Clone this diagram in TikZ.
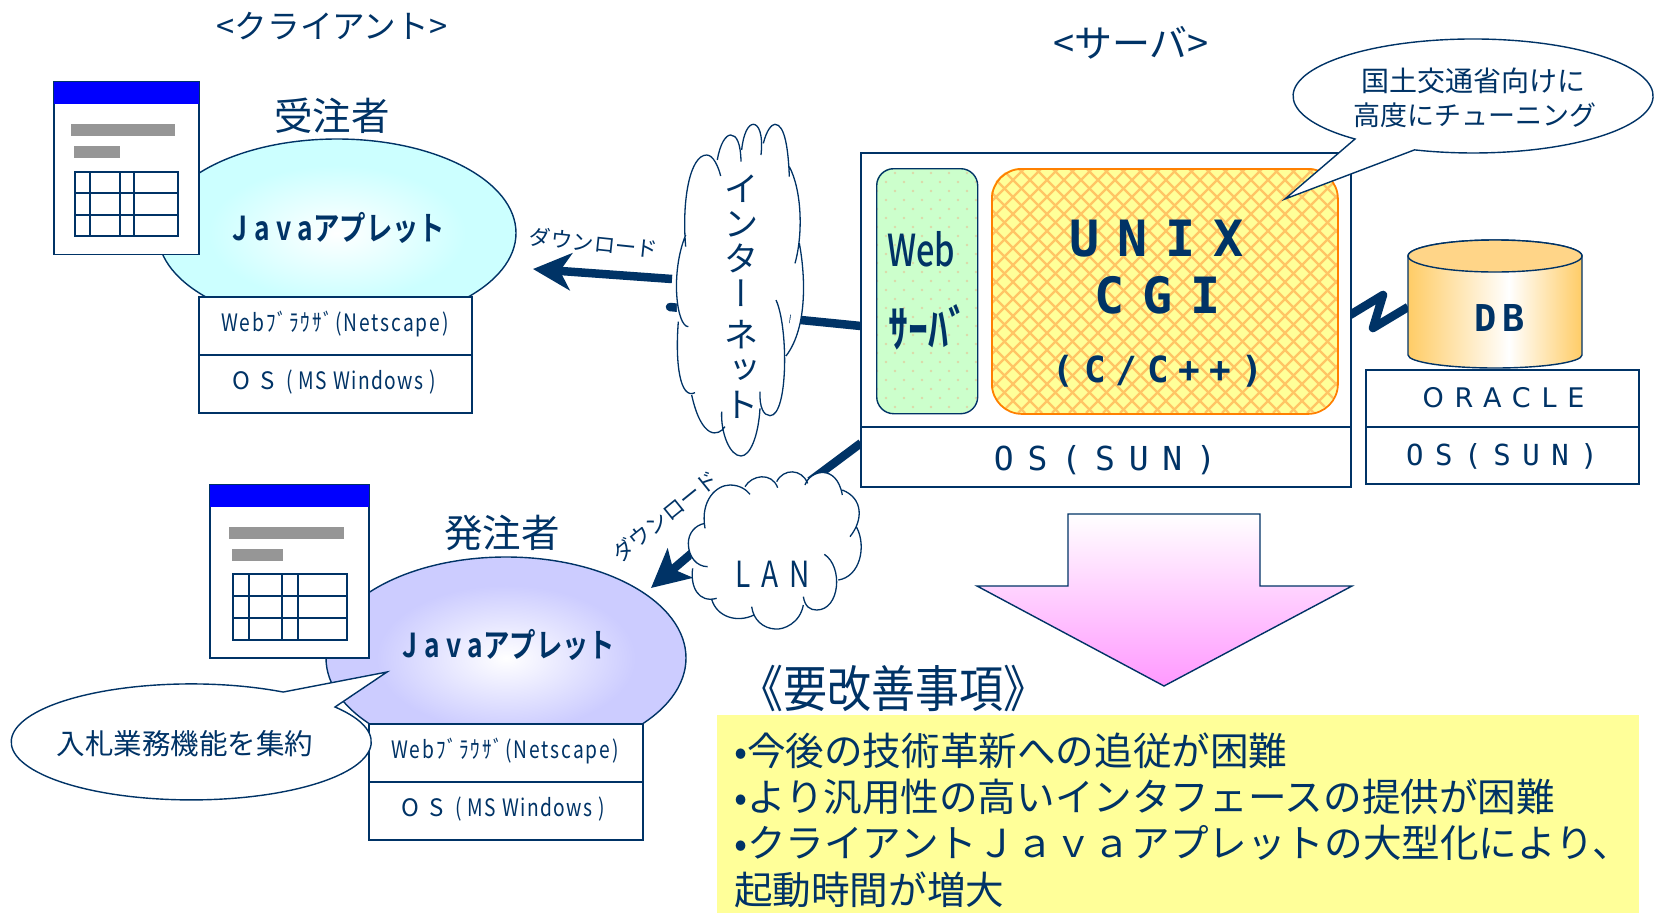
\documentclass[tikz,border=0pt]{standalone}
\usepackage{fontspec}
\usetikzlibrary{arrows.meta,shapes.geometric}
\setmainfont{Noto Sans CJK JP}[BoldFont={Noto Sans CJK JP Bold}]
\newfontfamily\jvert{Noto Sans CJK JP}[RawFeature={+vert}]
\newfontfamily\jmed{Noto Sans CJK JP Medium}
\newfontfamily\monof{DejaVu Sans Mono}[BoldFont={DejaVu Sans Mono Bold}]
\newfontfamily\djsans{DejaVu Sans}
\newcommand\fsz[1]{\fontsize{#1pt}{#1pt}\selectfont}
\newcommand\fxs[2]{\addfontfeatures{FakeStretch=#1,LetterSpace=#2}}
\definecolor{lc}{HTML}{003366}
\definecolor{cyanA}{HTML}{CCFFFF}
\definecolor{violetA}{HTML}{CCCCFF}
\definecolor{goldA}{HTML}{FFCC66}
\definecolor{goldB}{HTML}{FFD588}
\definecolor{pinkA}{HTML}{FF99FF}
\definecolor{yelA}{HTML}{FFFF99}
\definecolor{hatchA}{HTML}{FFC565}
\definecolor{greenA}{HTML}{CCFFCC}
\definecolor{dotA}{HTML}{DCD8A8}
\pgfdeclareradialshading{glowA}{\pgfpointorigin}{color(0bp)=(white); color(18bp)=(cyanA); color(50bp)=(cyanA)}
\pgfdeclareradialshading{glowB}{\pgfpointorigin}{color(0bp)=(white); color(18bp)=(violetA); color(50bp)=(violetA)}
\pgfdeclarehorizontalshading{dbshade}{100bp}{color(0bp)=(goldA); color(25bp)=(goldA); color(54bp)=(white); color(75bp)=(goldA); color(100bp)=(goldA)}
\tikzset{
  txt/.style={inner sep=0pt,outer sep=0pt,text=lc,align=center},
  boxn/.style={draw=lc,line width=1.6pt,fill=white,inner sep=0pt,outer sep=0pt},
  conn/.style={draw=lc,line width=8.5pt},
  cloudline/.style={draw=lc,line width=1.3pt},
  gridln/.style={draw=lc,line width=1.6pt},
}
\newcommand\inetpieces{
 (617,440) .. controls (605,300) and (630,165) .. (680,165) .. controls (700,165) and (715,200) .. (722,228)
 (712,180) .. controls (720,130) and (738,105) .. (752,105) .. controls (770,105) and (782,130) .. (783,185)
 (785,150) .. controls (790,100) and (805,73) .. (820,73) .. controls (835,73) and (850,100) .. (843,165)
 (850,130) .. controls (860,90) and (875,73) .. (885,73) .. controls (915,73) and (925,150) .. (928,230)
 (928,200) .. controls (965,270) and (970,400) .. (945,490)
 (958,430) .. controls (975,520) and (985,680) .. (918,768)
 (888,600) .. controls (925,680) and (925,947) .. (870,947) .. controls (850,947) and (838,920) .. (840,875)
 (840,925) .. controls (835,1010) and (810,1068) .. (783,1068) .. controls (750,1068) and (722,1000) .. (725,935)
 (735,980) .. controls (715,1010) and (665,1020) .. (635,885)
 (645,878) .. controls (600,900) and (585,790) .. (595,665)
 (625,680) .. controls (590,680) and (570,520) .. (617,405)
}
\newcommand\lanpieces{
 (195,265) .. controls (180,180) and (230,135) .. (270,135) .. controls (300,135) and (320,150) .. (330,163)
 (315,140) .. controls (335,105) and (395,95) .. (413,143)
 (410,125) .. controls (430,85) and (485,85) .. (503,130)
 (495,135) .. controls (510,90) and (590,70) .. (607,165)
 (607,150) .. controls (670,175) and (670,240) .. (630,290)
 (650,262) .. controls (680,320) and (660,410) .. (595,420)
 (553,343) .. controls (610,380) and (600,510) .. (530,510) .. controls (510,510) and (495,500) .. (490,470)
 (490,495) .. controls (480,550) and (430,570) .. (405,567) .. controls (370,565) and (340,540) .. (335,500)
 (342,525) .. controls (290,550) and (230,530) .. (215,478)
 (230,475) .. controls (175,490) and (150,440) .. (158,385)
 (203,380) .. controls (170,380) and (145,350) .. (145,310) .. controls (145,280) and (165,255) .. (195,250)
}
\begin{document}
\begin{tikzpicture}[x=1pt,y=-1pt]
\useasboundingbox (0,0) rectangle (1662,913);
\fill[white] (0,0) rectangle (1662,913);

% headers
\node[txt,font=\fsz{32.6}] (hcl) at (332,26) {<クライアント>};
\node[txt,font=\fsz{38}] (hsv) at (1131,43) {<サーバ>};

% ---- client 1
\node[txt,font=\fsz{38.5}] (rcv) at (332,116) {受注者};
\node[ellipse,shade,shading=glowA,draw=lc,line width=1.4pt,inner sep=0pt,minimum width=358pt,minimum height=188pt] (ap1) at (337,233) {};
\node[boxn,minimum width=273pt,minimum height=58pt] (br1) at (335.5,326) {};
\node[boxn,minimum width=273pt,minimum height=58pt] (os1) at (335.5,384) {};
\node[txt,font=\fsz{24}\fxs{0.8}{8}] (t1) at (335,324) {Webﾌﾞﾗｳｻﾞ(Netscape)};
\node[txt,font=\fsz{24}\fxs{0.8}{6}] (t2) at (334,382) {{\fxs{1}{20}O S}\hspace{12pt}(\hspace{6pt}MS Windows\hspace{6pt})};
\node[txt,font=\fsz{33}\bfseries\fxs{0.8}{0}] (j1) at (339,228) {{\fxs{0.8}{20}Java}アプレット};

% window 1
\node[boxn,anchor=north west,minimum width=145pt,minimum height=173pt] (w1) at (54,81.5) {};
\fill[blue] (w1.north west) rectangle (199,104);
\fill[black!41] (71,124) rectangle (175,136);
\fill[black!41] (74,146) rectangle (120,158);
\draw[gridln] (75,172) rectangle (178,236);
\draw[gridln] (90,172)--(90,236) (120,172)--(120,236) (134,172)--(134,236) (75,193)--(178,193) (75,215)--(178,215);

% ---- client 2
\node[txt,font=\fsz{38.5}] (ord) at (502,533) {発注者};
\node[ellipse,shade,shading=glowB,draw=lc,line width=1.4pt,inner sep=0pt,minimum width=360pt,minimum height=202pt] (ap2) at (506,658) {};
\node[boxn,minimum width=274pt,minimum height=58pt] (br2) at (506,753) {};
\node[boxn,minimum width=274pt,minimum height=58pt] (os2) at (506,811) {};
\node[txt,font=\fsz{24}\fxs{0.8}{8}] (t3) at (505,751) {Webﾌﾞﾗｳｻﾞ(Netscape)};
\node[txt,font=\fsz{24}\fxs{0.8}{6}] (t4) at (503,809) {{\fxs{1}{20}O S}\hspace{12pt}(\hspace{6pt}MS Windows\hspace{6pt})};
\node[txt,font=\fsz{33}\bfseries\fxs{0.8}{0}] (j2) at (509,645) {{\fxs{0.8}{20}Java}アプレット};

% window 2
\node[boxn,anchor=north west,minimum width=159pt,minimum height=173.5pt] (w2) at (210,484.5) {};
\fill[blue] (w2.north west) rectangle (369,507);
\fill[black!41] (229,527) rectangle (344,539);
\fill[black!41] (232,549) rectangle (283,561);
\draw[gridln] (233,574) rectangle (347,640);
\draw[gridln] (249,574)--(249,640) (282,574)--(282,640) (298,574)--(298,640) (233,596)--(347,596) (233,618)--(347,618);

% callout 2
\path[draw=lc,line width=1.4pt,fill=white] (335,707) arc[start angle=-37,end angle=300.7,x radius=180,y radius=58] -- (387,672) -- cycle;
\node[txt,font=\fsz{28.5}] (cb2) at (185,744) {入札業務機能を集約};

% ---- connectors
\coordinate (srvI) at (861,326);
\coordinate (srvL) at (861,443);
\coordinate (dbL) at (1408,307);
\coordinate (srvD) at (1350,315);
\coordinate (inA) at (672,279);
\coordinate (inB) at (670,307);
\coordinate (lnA) at (810,481);
\coordinate (lnB) at (706,541);
\coordinate (tipA) at (533,269);
\coordinate (tipB) at (651,588);
\draw[conn,line cap=round] (srvI) -- (inB);
\draw[conn,-{Stealth[length=38pt,width=37pt,inset=11pt]}] (inA) -- (tipA);
\draw[conn] (srvL) -- (lnA);
\draw[conn,-{Stealth[length=38pt,width=38pt,inset=9pt]}] (lnB) -- (tipB);
\draw[conn,line join=round] (srvD) -- (1383,295) -- (1373,328) -- (dbL);

\node[txt,font=\fsz{21.5},rotate=-6] (dl1) at (594,243) {ダウンロード};
\node[txt,font=\fsz{21.5},rotate=39] (dl2) at (665,516) {ダウンロード};

% internet cloud
\begin{scope}[shift={(480,100)},x=.33333pt,y=-.33333pt]
\path[fill=white] \inetpieces;
\fill[white] (617,440)--(722,228)--(783,185)--(848,165)--(928,230)--(945,490)--(918,768)--(870,940)--(783,1060)--(640,940)--(595,800)--(590,600)--cycle;
\path[cloudline] \inetpieces;
\end{scope}
\node[txt,font=\fontsize{34pt}{35pt}\selectfont] (inet) at (741,297) {イ\\ン\\タ\\{\jvert\fsz{34}ー}\\[6pt]ネ\\{\jvert\fsz{34}ッ}\\ト};

% LAN cloud
\begin{scope}[shift={(640,440)},x=.33333pt,y=-.33333pt]
\path[fill=white] \lanpieces;
\fill[white] (195,265)--(270,140)--(330,163)--(413,143)--(503,130)--(607,165)--(630,290)--(640,350)--(595,420)--(560,485)--(405,560)--(335,520)--(215,478)--(160,400)--(150,310)--cycle;
\path[cloudline] \lanpieces;
\end{scope}
\node[txt,font=\fsz{36}\fxs{0.78}{30}] (lan) at (773,574) {LAN};

% ---- server
\node[boxn,anchor=north west,minimum width=490pt,minimum height=274pt] (srv) at (861,153) {};
\node[boxn,anchor=north west,minimum width=490pt,minimum height=60pt] (sos) at (861,427) {};
\node[txt,font=\monof\fsz{33}\addfontfeatures{LetterSpace=42}] (t5) at (1105,460) {OS(SUN)};

% web server box
\fill[greenA,rounded corners=17pt] (876,168) rectangle (977,413);
\begin{scope}
\clip[rounded corners=17pt] (876,168) rectangle (977,413);
\foreach \r in {0,...,28}{
  \pgfmathsetmacro\yy{173+9*\r}
  \pgfmathsetmacro\off{mod(\r,2)*9}
  \foreach \c in {0,...,6}{
    \fill[dotA] ({877+\off+18*\c},\yy) circle[radius=1.4pt];
  }
}
\end{scope}
\node[draw=lc,line width=1.4pt,rounded corners=17pt,anchor=north west,inner sep=0pt,minimum width=101pt,minimum height=245pt] (web) at (876,168) {};
\node[txt,font=\jmed\fsz{44}\fxs{0.74}{0}] (t6) at (921,249) {Web};
\node[txt,font=\fsz{50}\bfseries\fxs{0.8}{0}] (t7) at (928,327) {ｻｰﾊﾞ};

% cgi box
\fill[yelA,rounded corners=30pt] (991,168) rectangle (1337,413);
\begin{scope}
\clip[rounded corners=30pt] (991,168) rectangle (1337,413);
\foreach \i in {0,...,36}{
  \pgfmathsetmacro\xa{746+17*\i}
  \draw[hatchA,line width=2.2pt] (\xa,168) -- ({\xa+245},413);
  \draw[hatchA,line width=2.2pt] ({\xa+245},168) -- (\xa,413);
}
\end{scope}
\node[draw=orange,line width=1.8pt,rounded corners=30pt,anchor=north west,inner sep=0pt,minimum width=346pt,minimum height=245pt] (cgi) at (991,168) {};
\node[txt,font=\monof\bfseries\fsz{50}\addfontfeatures{LetterSpace=36}] (t8) at (1156.5,239) {UNIX};
\node[txt,font=\monof\bfseries\fsz{50}\addfontfeatures{LetterSpace=36}] (t9) at (1157.5,295) {CGI};
\node[txt,font=\monof\bfseries\fsz{36}\addfontfeatures{LetterSpace=27}] (t10) at (1158,371) {(C/C++)};

% callout 1
\path[draw=lc,line width=1.4pt,fill=white] (1355,139) arc[start angle=131,end angle=469,x radius=180,y radius=57] -- (1285,199) -- cycle;
\node[txt,font=\fsz{28}] (cb1a) at (1473,81) {国土交通省向けに};
\node[txt,font=\fsz{27}] (cb1b) at (1475,115) {高度にチューニング};

% ---- DB
\node[boxn,minimum width=273pt,minimum height=57pt] (orc) at (1502.5,398.5) {};
\node[boxn,minimum width=273pt,minimum height=57pt] (dos) at (1502.5,455.5) {};
\path[shading=dbshade,draw=lc,line width=1.4pt] (1408,256) -- (1408,355) arc[start angle=180,end angle=0,x radius=87,y radius=13] -- (1582,256) arc[start angle=0,end angle=-180,x radius=87,y radius=16] -- cycle;
\path[fill=goldB,draw=lc,line width=1.4pt] (1495,256) ellipse[x radius=87,y radius=16];
\node[txt,font=\monof\bfseries\fsz{37}\addfontfeatures{LetterSpace=16}] (t11) at (1500,318) {DB};
\node[txt,font=\djsans\fsz{27}\addfontfeatures{LetterSpace=40}] (t12) at (1503.5,398) {ORACLE};
\node[txt,font=\monof\fsz{29}\addfontfeatures{LetterSpace=40}] (t13) at (1502,456) {OS(SUN)};

% ---- big arrow
\path[draw=lc,line width=1.4pt,top color=white,bottom color=pinkA] (1068,514) -- (1260,514) -- (1260,586) -- (1352,586) -- (1164,686) -- (977,586) -- (1068,586) -- cycle;

% ---- improvements
\node[txt,font=\fsz{50}\fxs{0.88}{0}] (imp) at (893,688) {《要改善事項》};
\node[fill=yelA,inner sep=0pt,anchor=north west,minimum width=922pt,minimum height=198pt] (yb) at (717,715) {};
\node[txt,anchor=west,align=left,font=\fontsize{38.6pt}{46.4pt}\selectfont] (lst) at (734,820) {•今後の技術革新への追従が困難\\•より汎用性の高いインタフェースの提供が困難\\•クライアントＪａｖａアプレットの大型化により、\\起動時間が増大};
\end{tikzpicture}
\end{document}
